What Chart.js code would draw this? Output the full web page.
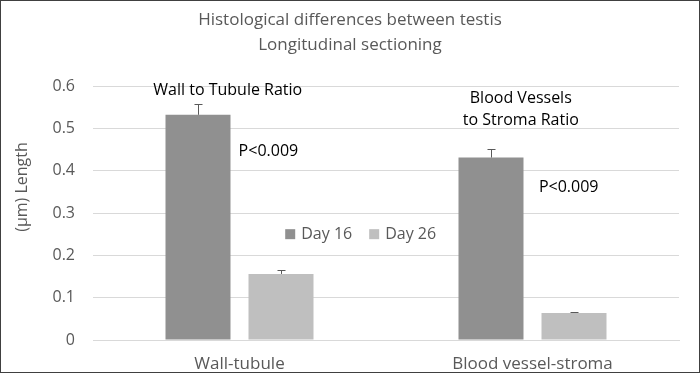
<!DOCTYPE html>
<html>
<head>
<meta charset="utf-8">
<script src="https://cdn.jsdelivr.net/npm/chart.js@4/dist/chart.umd.min.js"></script>
<style>
html,body{margin:0;padding:0;background:#fff;}
#wrap{width:700px;height:373px;position:relative;}
</style>
</head>
<body>
<div id="wrap"><canvas id="c" width="700" height="373"></canvas></div>
<script>
// ---- data ----
const categories = ["Wall-tubule", "Blood vessel-stroma"];
const seriesNames = ["Day 16", "Day 26"];
const day16 = [0.532, 0.431];
const day26 = [0.156, 0.064];
const day16Err = [0.026, 0.021];
const day26Err = [0.009, 0.003];
const yTicks = [0, 0.1, 0.2, 0.3, 0.4, 0.5, 0.6];
const titleLines = ["Histological differences between testis", "Longitudinal sectioning"];
const yTitle = "(\u00b5m) Length";
const annotations = [
  {lines: ["Wall to Tubule Ratio"], cat: 0, dx: -0.04, y: 0.59, align: "center"},
  {lines: ["P<0.009"], cat: 0, dx: -0.003, y: 0.446, align: "left"},
  {lines: ["Blood Vessels", "to Stroma Ratio"], cat: 1, dx: -0.04, y: 0.571, align: "center"},
  {lines: ["P<0.009"], cat: 1, dx: 0.022, y: 0.361, align: "left"}
];

const colors = ["#909090", "#bfbfbf"];
const textGray = "#595959";
const FONT = "'Open Sans', 'DejaVu Sans', sans-serif";
const errors = [day16Err, day26Err];

const extras = {
  id: "extras",
  beforeDraw(chart) {
    const ctx = chart.ctx;
    ctx.save();
    ctx.fillStyle = "#fff";
    ctx.fillRect(0, 0, chart.width, chart.height);
    ctx.restore();
  },
  afterDatasetsDraw(chart) {
    const ctx = chart.ctx;
    const y = chart.scales.y;
    ctx.save();
    ctx.strokeStyle = "#595959";
    ctx.lineWidth = 1;
    chart.data.datasets.forEach((ds, di) => {
      const meta = chart.getDatasetMeta(di);
      meta.data.forEach((el, i) => {
        const v = ds.data[i];
        const e = errors[di][i];
        const x = Math.round(el.x) + 0.5;
        const y0 = y.getPixelForValue(v);
        const y1 = Math.round(y.getPixelForValue(v + e)) + 0.5;
        ctx.beginPath();
        ctx.moveTo(x, y0);
        ctx.lineTo(x, y1);
        ctx.moveTo(x - 4, y1);
        ctx.lineTo(x + 4, y1);
        ctx.stroke();
      });
    });
    ctx.restore();
  },
  afterDraw(chart) {
    const ctx = chart.ctx;
    const area = chart.chartArea;
    const xs = chart.scales.x, ys = chart.scales.y;
    ctx.save();
    // title
    ctx.fillStyle = textGray;
    ctx.font = "17px " + FONT;
    ctx.textAlign = "center";
    ctx.textBaseline = "middle";
    titleLines.forEach((t, i) => ctx.fillText(t, chart.width / 2, 20 + i * 25));
    // y title
    ctx.save();
    ctx.translate(22, (area.top + area.bottom) / 2 - 26);
    ctx.rotate(-Math.PI / 2);
    ctx.font = "16px " + FONT;
    ctx.fillText(yTitle, 0, 0);
    ctx.restore();
    // annotations
    const catW = xs.getPixelForValue(1) - xs.getPixelForValue(0);
    ctx.fillStyle = "#000";
    ctx.font = "16px " + FONT;
    annotations.forEach(a => {
      const x = xs.getPixelForValue(a.cat) + a.dx * catW;
      const yc = ys.getPixelForValue(a.y);
      ctx.textAlign = a.align;
      a.lines.forEach((l, i) => ctx.fillText(l, x, yc + i * 22));
    });
    // legend
    ctx.font = "16px " + FONT;
    ctx.textAlign = "left";
    const ly = ys.getPixelForValue(0.25);
    let lx = area.left + (area.right - area.left) * 0.328;
    seriesNames.forEach((n, i) => {
      ctx.fillStyle = colors[i];
      ctx.fillRect(lx, ly - 5, 10, 10);
      ctx.fillStyle = textGray;
      ctx.fillText(n, lx + 16, ly);
      lx += 16 + ctx.measureText(n).width + 17;
    });
    // border
    ctx.strokeStyle = "#404040";
    ctx.lineWidth = 1;
    ctx.strokeRect(0.5, 0.5, chart.width - 1, chart.height - 1);
    ctx.restore();
  }
};

new Chart(document.getElementById("c"), {
  type: "bar",
  data: {
    labels: categories,
    datasets: [
      {label: seriesNames[0], data: day16, backgroundColor: colors[0]},
      {label: seriesNames[1], data: day26, backgroundColor: colors[1]}
    ]
  },
  options: {
    responsive: false,
    animation: false,
    events: [],
    layout: {padding: {top: 86, right: 21, bottom: 0, left: 0}},
    datasets: {bar: {categoryPercentage: 0.5666, barPercentage: 0.783}},
    plugins: {legend: {display: false}, title: {display: false}, tooltip: {enabled: false}},
    scales: {
      x: {
        grid: {display: false, drawTicks: false},
        border: {color: "#d9d9d9", width: 1},
        ticks: {color: textGray, font: {family: FONT, size: 17}, padding: 14, maxRotation: 0},
        afterFit(s) { s.height = 33; }
      },
      y: {
        min: 0, max: 0.6,
        afterBuildTicks(s) { s.ticks = yTicks.map(v => ({value: v})); },
        grid: {color: "#d9d9d9", drawTicks: false},
        border: {display: false},
        ticks: {color: textGray, font: {family: FONT, size: 16}, padding: 18,
          callback: v => String(v)},
        afterFit(s) { s.width = 93; }
      }
    }
  },
  plugins: [extras]
});
</script>
</body>
</html>
